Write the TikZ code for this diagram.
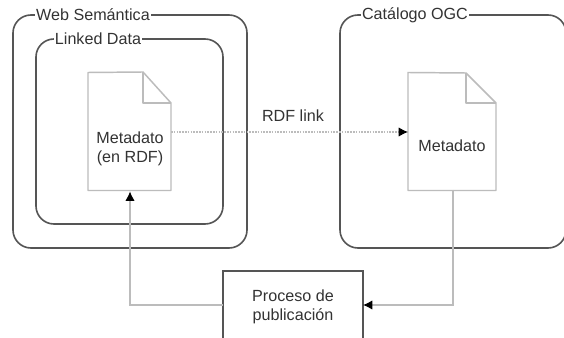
\documentclass[tikz,border=0pt]{standalone}
\usepackage{fontspec}
\setmainfont{Liberation Sans}
\usetikzlibrary{arrows.meta}
\definecolor{boxline}{HTML}{555555}
\definecolor{softline}{HTML}{BCBCBC}
\definecolor{ink}{HTML}{333333}
\tikzset{
  x=0.75pt,y=-0.75pt,
  group/.style={draw=boxline,line width=1.2pt,rounded corners=13.5pt},
  procbox/.style={draw=boxline,line width=1.05pt},
  docline/.style={draw=softline,line width=1.1pt,line join=round},
  link/.style={draw=softline,line width=0.8pt,-{Latex[black,length=7pt,width=7pt]}},
  rdflink/.style={link,dash pattern=on 1.2pt off 0.9pt},
  lbl/.style={font=\fontsize{12.1}{14.5}\selectfont,text=ink,inner sep=0.6pt,align=center},
  tag/.style={lbl,fill=white},
  docarea/.style={inner sep=0pt,outer sep=0pt,minimum width=#1*0.75pt,minimum height=88.5pt},
}
\begin{document}
\begin{tikzpicture}
\useasboundingbox (0,0) rectangle (564,338);
\clip (0,0) rectangle (564,338);
\fill[white] (0,0) rectangle (564,338);
% groups
\draw[group] (13,15) rectangle (247,248);
\draw[group] (36,39) rectangle (223,224);
\draw[group] (340,15) rectangle (566,248);
% documents
\node[docarea=83] (doca) at (129.5,131.5) {};
\node[docarea=88] (docb) at (452,131.5) {};
\draw[docline] (doca.north west) -- (143,72) -- (171,103) -- (doca.south east) -- (doca.south west) -- cycle;
\draw[docline] (143,72) -- (143,103) -- (171,103);
\draw[docline] (docb.north west) -- (466,73) -- (496,103) -- (docb.south east) -- (docb.south west) -- cycle;
\draw[docline] (466,73) -- (466,103) -- (496,103);
% process
\node[inner sep=0pt,outer sep=0pt,minimum width=105pt,minimum height=75pt] (proc) at (293,321) {};
\draw[procbox] (223,345) -- (223,271) -- (363,271) -- (363,345);
% labels
\node[tag] (tweb) at (93,14.5) {Web Semántica};
\node[tag] (tlinked) at (98,38.5) {Linked Data};
\node[tag] (tcat) at (415,15.5) {Catálogo OGC};
\node[lbl] (tmeta) at (130,148.5) {Metadato\\(en RDF)};
\node[lbl] (tmetb) at (452,146) {Metadato};
\node[lbl] (trdf) at (293,116) {RDF link};
\node[lbl] (tproc) at (293,306.5) {Proceso de\\publicación};
% connectors
\coordinate (srca) at (171,132);
\coordinate (dstb) at (408,132);
\coordinate (proca) at (223,305);
\coordinate (procb) at (363,305);
\draw[rdflink] (srca) -- (dstb);
\draw[link] (proca) -- (130,305) -- (130,191.5);
\draw[link] (453,190) -- (453,305) -- (procb);
\end{tikzpicture}
\end{document}
